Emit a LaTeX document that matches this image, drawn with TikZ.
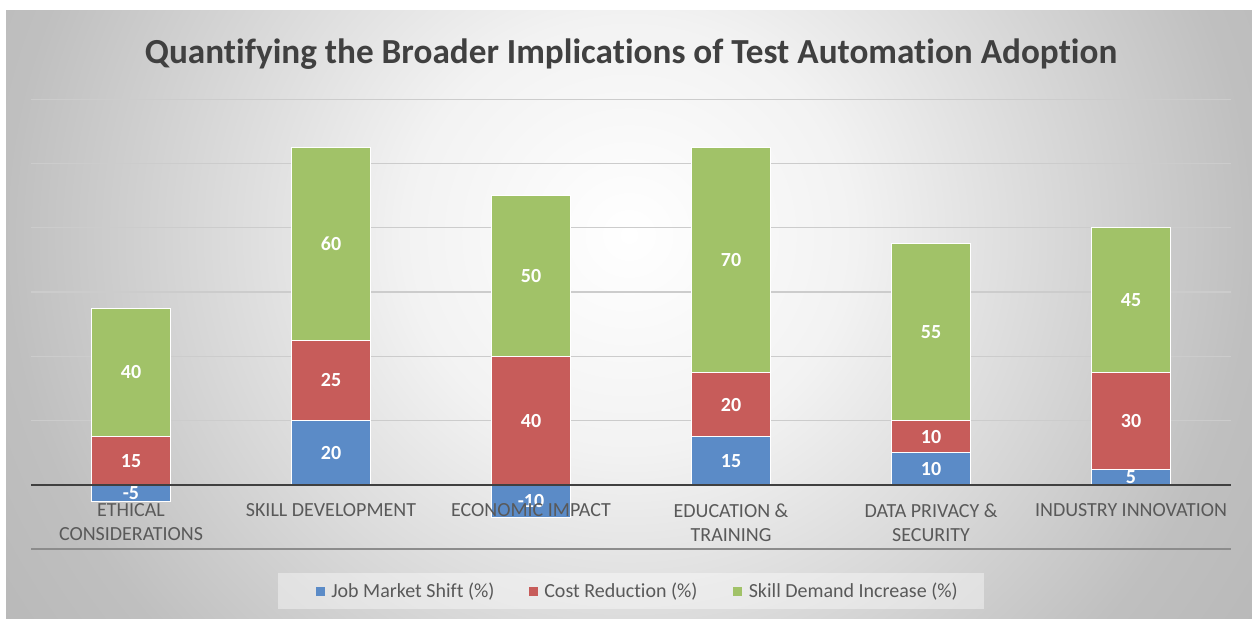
\documentclass[tikz,border=0pt]{standalone}
\usepackage{fontspec}
\setmainfont{Carlito}[Ligatures=CommonOff]
\usetikzlibrary{positioning}
\definecolor{jobblue}{RGB}{91,139,199}
\definecolor{costred}{RGB}{199,92,90}
\definecolor{skillgreen}{RGB}{161,194,104}
\definecolor{titlegray}{RGB}{64,64,64}
\definecolor{labelgray}{RGB}{89,89,89}
\pgfdeclareradialshading{chartbg}{\pgfpoint{0bp}{0bp}}{color(0bp)=(white);
  color(9bp)=(black!5); color(25bp)=(black!25); color(35bp)=(black!30); color(50bp)=(black!30)}
\begin{document}
\begin{tikzpicture}[x=0.5pt, y=0.5pt,
    seg/.style={draw=white, line width=0.4pt},
    val/.style={font=\bfseries\fontsize{10}{12}\selectfont, text=white, inner sep=0pt},
    cat/.style={font=\fontsize{10}{12}\selectfont, text=labelgray, align=center, anchor=north, inner sep=0pt},
    legsq/.style={fill=#1, minimum size=4.5pt, inner sep=0pt},
    legtxt/.style={font=\fontsize{10}{12}\selectfont, text=labelgray, inner sep=0pt}]
  \useasboundingbox (0,-134) rectangle (1252,485);
  % chart area
  \begin{scope}
    \clip (6,-134) rectangle (1252,474);
    \shade[shading=chartbg] (6,-350) rectangle (1252,850);
  \end{scope}
  \node[font=\bfseries\fontsize{17.6}{21}\selectfont, text=titlegray, anchor=base] (title) at (631,421)
    {Quantifying the Broader Implications of Test Automation Adoption};
  % grid
  \foreach \k in {1,...,6}
    \draw[black!20, line width=0.6pt] (31,{\k*64.3}) -- (1231,{\k*64.3});
  % stacked bars
  \foreach \x/\a/\b/\c in {131/-5/15/40, 331/20/25/60, 531/-10/40/50,
                          731/15/20/70, 931/10/10/55, 1131/5/30/45} {
    \pgfmathsetmacro\cumA{max(\a,0)}
    \pgfmathsetmacro\cumB{\cumA+\b}
    \pgfmathsetmacro\cumC{\cumB+\c}
    \filldraw[seg, fill=jobblue] ({\x-39.5},0) rectangle ({\x+39.5},{\a*3.215});
    \filldraw[seg, fill=costred] ({\x-39.5},{\cumA*3.215}) rectangle ({\x+39.5},{\cumB*3.215});
    \filldraw[seg, fill=skillgreen] ({\x-39.5},{\cumB*3.215}) rectangle ({\x+39.5},{\cumC*3.215});
  }
  \draw[black!75, line width=1.3pt] (31,0) -- (1231,0);
  \draw[black!45, line width=0.6pt] (31,-64) -- (1231,-64);
  % value labels
  \foreach \x/\a/\b/\c/\n in {131/-5/15/40/1, 331/20/25/60/2, 531/-10/40/50/3,
                             731/15/20/70/4, 931/10/10/55/5, 1131/5/30/45/6} {
    \pgfmathsetmacro\cumA{max(\a,0)}
    \pgfmathsetmacro\cumB{\cumA+\b}
    \node[val] (job\n) at (\x,{\a*1.6075}) {\a};
    \node[val] (cost\n) at (\x,{(\cumA+\b/2)*3.215}) {\b};
    \node[val] (skill\n) at (\x,{(\cumB+\c/2)*3.215}) {\c};
  }
  % categories
  \node[cat] (ethic) at (131,-18) {ETHICAL\\CONSIDERATIONS};
  \node[cat] (skill) at (331,-18) {SKILL DEVELOPMENT};
  \node[cat] (econ) at (531,-18) {ECONOMIC IMPACT};
  \node[cat] (educ) at (731,-18) {EDUCATION \&\\TRAINING};
  \node[cat] (data) at (931,-18) {DATA PRIVACY \&\\SECURITY};
  \node[cat] (indus) at (1131,-18) {INDUSTRY INNOVATION};
  % legend
  \node[fill=white, fill opacity=0.4, minimum width=353pt, minimum height=18pt] (legend) at (631,-106) {};
  \node[legsq=jobblue] (sq1) at (320,-106.5) {};
  \node[legtxt, right=3pt of sq1] (lt1) {Job Market Shift (\%)};
  \node[legsq=costred] (sq2) at (533,-106.5) {};
  \node[legtxt, right=3pt of sq2] (lt2) {Cost Reduction (\%)};
  \node[legsq=skillgreen] (sq3) at (737.5,-106.5) {};
  \node[legtxt, right=3pt of sq3] (lt3) {Skill Demand Increase (\%)};
\end{tikzpicture}
\end{document}
